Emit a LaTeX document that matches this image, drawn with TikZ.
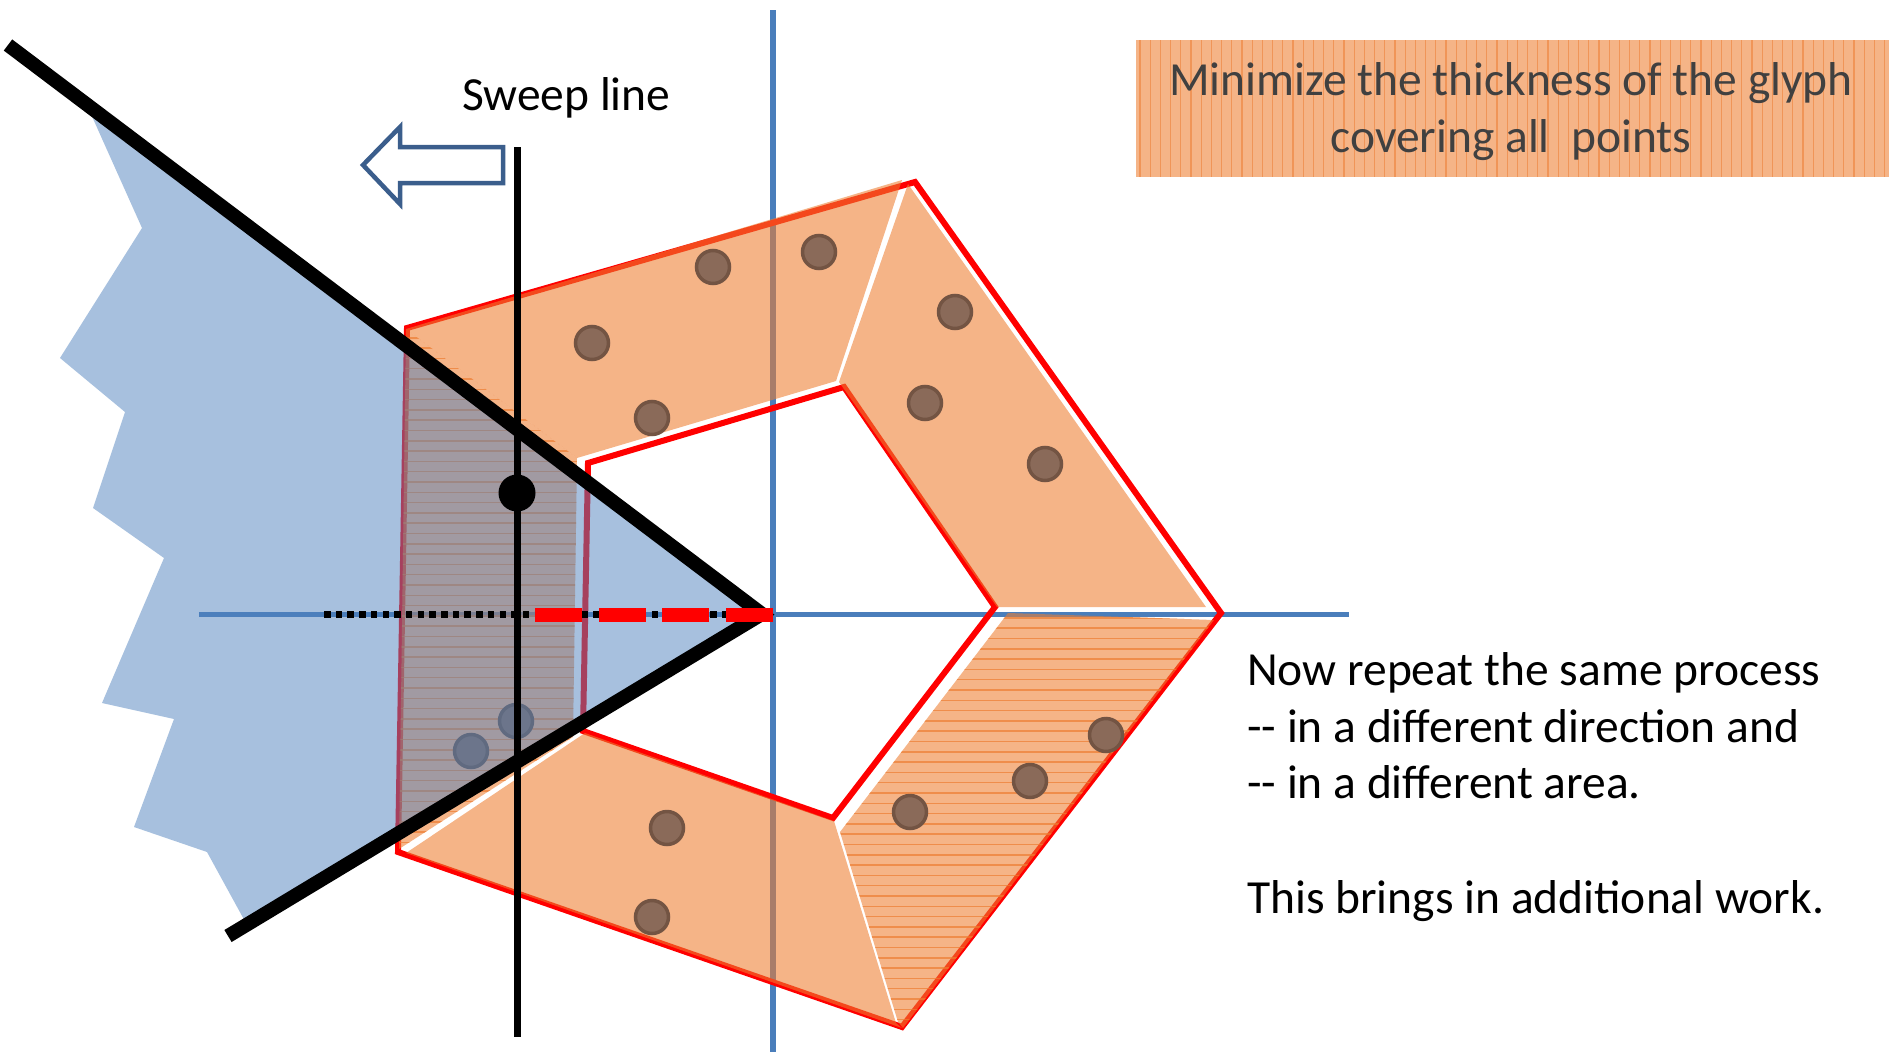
\documentclass[tikz,border=0pt]{standalone}
\usepackage{fontspec}
\setmainfont{Carlito}
\definecolor{axisblue}{HTML}{4A7EBB}
\definecolor{regionblue}{HTML}{4F81BD}
\definecolor{glyphorange}{HTML}{ED7D31}
\definecolor{ptfill}{HTML}{8A6A59}
\definecolor{ptdraw}{HTML}{735443}
\definecolor{arrowblue}{HTML}{3B5E8C}
\definecolor{boxtext}{HTML}{404040}
\begin{document}
\begin{tikzpicture}[x=1pt,y=-1pt,
  axisline/.style={draw=axisblue,line width=5.5pt},
  glyphedge/.style={draw=red,line width=6pt,line join=miter},
  glyphpiece/.style={fill=glyphorange,fill opacity=0.58},
  hatchline/.style={draw=glyphorange,line width=1.5pt,draw opacity=0.7},
  boxhatch/.style={draw=glyphorange,line width=1.3pt,draw opacity=0.55},
  datapt/.style={circle,fill=ptfill,draw=ptdraw,line width=3.5pt,minimum size=33pt,inner sep=0pt},
  boundline/.style={draw=black,line width=14pt,line join=miter},
  txt/.style={font=\fontsize{47.5}{57.5}\selectfont,inner sep=0pt}
]
\useasboundingbox (0,0) rectangle (1893,1052);
% axes
\coordinate (vtop) at (773,10); \coordinate (vbot) at (773,1052);
\coordinate (hleft) at (199,614.5); \coordinate (hright) at (1349,614.5);
\draw[axisline] (vtop) -- (vbot);
\draw[axisline] (hleft) -- (hright);
% glyph outlines
\draw[glyphedge] (407,328) -- (915,182) -- (1221,613) -- (902,1027) -- (398,852) -- cycle;
\draw[glyphedge] (588,463) -- (844,387) -- (995,607) -- (833,818) -- (583,731) -- cycle;
% glyph pieces
\fill[glyphpiece] (406,329) -- (902,180) -- (836,381) -- (577,458) -- cycle;
\fill[glyphpiece] (908,184) -- (1206,607) -- (997,607) -- (839,382) -- cycle;
\fill[glyphpiece] (1008,613) -- (1214,620) -- (903,1028) -- (898,1022) -- (840,832) -- cycle;
\fill[glyphpiece] (406,853) -- (585,733) -- (834,821) -- (896,1023) -- (902,1028) -- cycle;
\fill[glyphpiece] (406,329) -- (577,458) -- (573,737) -- (399,849) -- cycle;
% hatching
\begin{scope}
  \clip (406,329) -- (577,458) -- (573,737) -- (399,849) -- cycle;
  \foreach \hy in {337.8,348.1,...,852} \draw[hatchline] (390,\hy) -- (590,\hy);
\end{scope}
\begin{scope}
  \clip (1008,613) -- (1214,620) -- (903,1028) -- (898,1022) -- (840,832) -- cycle;
  \foreach \hy in {617.9,628.2,...,1030} \draw[hatchline] (830,\hy) -- (1225,\hy);
\end{scope}
% points
\foreach \n/\px/\py in {1/713/267, 2/819/252, 3/592/343, 4/652/418, 5/955/312, 6/925/403, 7/1045/464, 8/516/721, 9/471/751, 10/667/828, 11/652/917, 12/910/812, 13/1030/781, 14/1106/735}
  \node[datapt] (pt\n) at (\px,\py) {};
% blue region
\fill[regionblue,fill opacity=0.5] (86,103) -- (142,228) -- (60,358) -- (125,412) -- (93,508) -- (164,558) -- (102,703) -- (174,719) -- (134,827) -- (207,852) -- (247,925) -- (762,614) -- cycle;
% wedge lines
\coordinate (wtop) at (8,45); \coordinate (apex) at (762,614); \coordinate (wbot) at (228,936);
\draw[boundline] (wtop) -- (apex) -- (wbot);
% dotted and dashed
\coordinate (dotL) at (324,614.5); \coordinate (dotR) at (765,614.5);
\draw[black,line width=7pt,dash pattern=on 6.5pt off 5.2pt] (dotL) -- (dotR);
\coordinate (dashR) at (773,614.5); \coordinate (dashL) at (518,614.5);
\draw[red,line width=14pt,dash pattern=on 47pt off 16.6pt] (dashR) -- (dashL);
% sweep line
\coordinate (swtop) at (517,147); \coordinate (swbot) at (517,1037);
\draw[black,line width=7pt] (swtop) -- (swbot);
\node[circle,fill=black,minimum size=37pt,inner sep=0pt] (swdot) at (517,493) {};
% arrow
\draw[arrowblue,line width=4.5pt,fill=white,line join=miter] (363,165) -- (400,127) -- (400,147) -- (503,147) -- (503,183) -- (400,183) -- (400,204) -- cycle;
\node[txt,anchor=base west] (sweeplabel) at (462,110) {Sweep line};
% goal box
\fill[glyphorange,fill opacity=0.58] (1136,40) rectangle (1889,177);
\begin{scope}
  \clip (1136,40) rectangle (1889,177);
  \foreach \hx in {1140,1150.2,...,1890} \draw[boxhatch] (\hx,40) -- (\hx,177);
\end{scope}
\node[txt,anchor=base,text=boxtext] (goalA) at (1511,95) {Minimize the thickness of the glyph};
\node[txt,anchor=base,text=boxtext] (goalB) at (1511,152) {covering all\ \ points};
% notes
\node[txt,anchor=base west] (noteA) at (1247,685) {Now repeat the same process};
\node[txt,anchor=base west] (noteB) at (1247,742) {-{}- in a different direction and};
\node[txt,anchor=base west] (noteC) at (1247,798) {-{}- in a different area.};
\node[txt,anchor=base west] (noteD) at (1247,913) {This brings in additional work.};
\end{tikzpicture}
\end{document}
